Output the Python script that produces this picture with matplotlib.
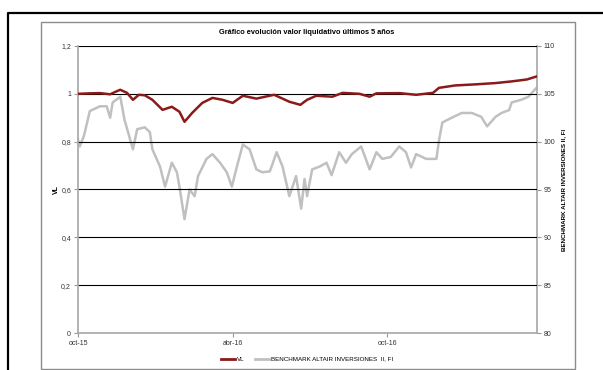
import numpy as np
import pandas as pd
import matplotlib
matplotlib.use("Agg")
import matplotlib.pyplot as plt
from matplotlib.lines import Line2D
from matplotlib.patches import Rectangle

plt.rcParams['font.family'] = ['Liberation Sans', 'DejaVu Sans']

# VL (left axis)
vl_dates = ['2015-10-01', '2015-10-15', '2015-10-27', '2015-11-08', '2015-11-14',
            '2015-11-20', '2015-11-28', '2015-12-05', '2015-12-12', '2015-12-19',
            '2015-12-28', '2016-01-09', '2016-01-20', '2016-01-29', '2016-02-04',
            '2016-02-13', '2016-02-25', '2016-03-08', '2016-03-20', '2016-04-01',
            '2016-04-13', '2016-04-29', '2016-05-20', '2016-06-07', '2016-06-20',
            '2016-06-28', '2016-07-09', '2016-07-28', '2016-08-09', '2016-08-29',
            '2016-09-10', '2016-09-18', '2016-10-15', '2016-11-04', '2016-11-24',
            '2016-12-01', '2016-12-20', '2017-01-15', '2017-02-06', '2017-02-25',
            '2017-03-15', '2017-03-26']
vl_values = [1.000, 1.002, 1.003, 0.998, 1.008,
             1.017, 1.004, 0.975, 0.996, 0.994,
             0.975, 0.933, 0.946, 0.925, 0.883,
             0.920, 0.962, 0.983, 0.975, 0.962,
             0.992, 0.980, 0.996, 0.967, 0.954,
             0.975, 0.992, 0.988, 1.004, 1.000,
             0.988, 1.002, 1.003, 0.996, 1.004,
             1.025, 1.035, 1.040, 1.045, 1.052,
             1.060, 1.072]

# Benchmark (right axis)
bm_dates = ['2015-10-01', '2015-10-03', '2015-10-08', '2015-10-15', '2015-10-27',
            '2015-11-04', '2015-11-08', '2015-11-11', '2015-11-20', '2015-11-25',
            '2015-12-05', '2015-12-10', '2015-12-19', '2015-12-25', '2015-12-28',
            '2016-01-06', '2016-01-12', '2016-01-20', '2016-01-26', '2016-01-29',
            '2016-02-04', '2016-02-10', '2016-02-16', '2016-02-20', '2016-03-01',
            '2016-03-08', '2016-03-17', '2016-03-25', '2016-03-31', '2016-04-06',
            '2016-04-13', '2016-04-21', '2016-04-29', '2016-05-06', '2016-05-15',
            '2016-05-23', '2016-05-30', '2016-06-07', '2016-06-15', '2016-06-21',
            '2016-06-25', '2016-06-28', '2016-07-04', '2016-07-13', '2016-07-21',
            '2016-07-27', '2016-08-05', '2016-08-13', '2016-08-20', '2016-08-31',
            '2016-09-10', '2016-09-18', '2016-09-25', '2016-10-05', '2016-10-15',
            '2016-10-23', '2016-10-29', '2016-11-04', '2016-11-16', '2016-11-28',
            '2016-12-01', '2016-12-05', '2016-12-16', '2016-12-28', '2017-01-09',
            '2017-01-20', '2017-01-27', '2017-02-06', '2017-02-13', '2017-02-22',
            '2017-02-25', '2017-03-09', '2017-03-17', '2017-03-26']
bm_values = [100.2, 99.5, 100.6, 103.2, 103.7,
             103.7, 102.5, 104.1, 104.7, 102.3,
             99.2, 101.3, 101.5, 101.0, 99.2,
             97.4, 95.3, 97.8, 96.8, 95.3,
             91.9, 95.0, 94.3, 96.4, 98.2,
             98.7, 97.8, 96.8, 95.3, 97.4,
             99.7, 99.2, 97.1, 96.8, 96.9,
             98.9, 97.4, 94.3, 96.4, 93.0,
             96.1, 94.3, 97.1, 97.4, 97.8,
             96.5, 98.9, 97.8, 98.7, 99.5,
             97.1, 98.9, 98.2, 98.4, 99.5,
             98.9, 97.3, 98.7, 98.2, 98.2,
             100.1, 102.0, 102.5, 103.0, 103.0,
             102.6, 101.6, 102.6, 103.0, 103.3,
             104.1, 104.4, 104.7, 105.6]

tick_dates = ['2015-10-01', '2016-04-01', '2016-10-01']
tick_labels = ['oct-15', 'abr-16', 'oct-16']

vl_x = pd.to_datetime(vl_dates)
bm_x = pd.to_datetime(bm_dates)

fig = plt.figure(figsize=(6.03, 3.70), dpi=100)

# outer page frame and chart frame
fig.add_artist(Line2D([8 / 603, 8 / 603, 1.0], [0.0, 1 - 13 / 370, 1 - 13 / 370],
                      color='black', lw=1.6, transform=fig.transFigure))
fig.add_artist(Rectangle((41 / 603, 1 / 370), 534 / 603, 347 / 370, fill=False,
                         edgecolor='#8c8c8c', lw=1.0, transform=fig.transFigure))

ax = fig.add_axes([78 / 603, 1 - 333 / 370, 459 / 603, 287 / 370])
ax2 = ax.twinx()

for y in np.arange(0.2, 1.21, 0.2):
    ax.axhline(y, color='black', lw=0.8, zorder=1)

ax2.plot(bm_x, bm_values, color='#c0c0c0', lw=1.8, zorder=2)
ax.plot(vl_x, vl_values, color='#8b1a1a', lw=1.8, zorder=3)
ax.set_zorder(ax2.get_zorder() + 1)
ax.patch.set_visible(False)

ax.set_ylim(0, 1.2)
ax2.set_ylim(80, 110)
ax.set_xlim(pd.Timestamp('2015-10-01'), pd.Timestamp('2017-03-27'))

ax.set_yticks(np.arange(0, 1.21, 0.2))
ax.set_yticklabels(['0', '0,2', '0,4', '0,6', '0,8', '1', '1,2'])
ax2.set_yticks(np.arange(80, 111, 5))
ax.set_xticks(pd.to_datetime(tick_dates))
ax.set_xticklabels(tick_labels)

for a in (ax, ax2):
    for s in a.spines.values():
        s.set_visible(False)
    a.tick_params(labelsize=5, colors='#999999', labelcolor='#333333',
                  length=3, width=0.8, pad=2)
ax.spines['left'].set_visible(True)
ax.spines['bottom'].set_visible(True)
ax2.spines['right'].set_visible(True)
for s in (ax.spines['left'], ax.spines['bottom'], ax2.spines['right']):
    s.set_color('#a6a6a6')
    s.set_linewidth(1.2)

ax.set_ylabel('VL', fontsize=5, fontweight='bold', labelpad=1)
ax2.set_ylabel('BENCHMARK ALTAIR INVERSIONES II, FI', fontsize=4.5,
               fontweight='bold', labelpad=4)

fig.text(307 / 603, 1 - 32 / 370, 'Gráfico evolución valor liquidativo últimos 5 años',
         ha='center', va='center', fontsize=5.3, fontweight='bold')

handles = [Line2D([], [], color='#8b1a1a', lw=2.0),
           Line2D([], [], color='#c0c0c0', lw=2.0)]
fig.legend(handles, ['VL', 'BENCHMARK ALTAIR INVERSIONES  II, FI'],
           loc='center', bbox_to_anchor=(307 / 603, 1 - 359 / 370), ncol=2,
           frameon=False, fontsize=4.5, handlelength=2.2, handletextpad=0.3,
           columnspacing=1.8)

fig.savefig('out.png', dpi=100)
